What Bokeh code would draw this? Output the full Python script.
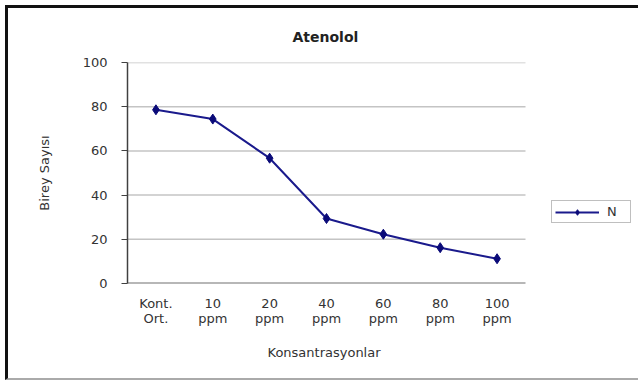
from bokeh.plotting import figure
from bokeh.layouts import column
from bokeh.models import (Range1d, Legend, LegendItem, Title,
                          FixedTicker, ColumnDataSource)
from bokeh.embed import file_html
from bokeh.resources import INLINE

categories = ["Kont.\nOrt.", "10\nppm", "20\nppm", "40\nppm", "60\nppm", "80\nppm", "100\nppm"]
values_N = [78.6, 74.4, 56.7, 29.4, 22.3, 16.2, 11.2]
y_ticks = [0, 20, 40, 60, 80, 100]
title_text = "Atenolol"
x_label = "Konsantrasyonlar"
y_label = "Birey Sayısı"
series_name = "N"

FONT = "DejaVu Sans"
TXT = "#333333"

n = len(categories)
x_pos = [i + 0.5 for i in range(n)]
# the categories fill 398 px; the frame continues to the right to hold the legend (507 px)
x_end = n * 507 / 398

p = figure(width=630, height=370, output_backend="svg", toolbar_location=None,
           x_range=Range1d(0, x_end), y_range=Range1d(0, 100),
           min_border_left=119, min_border_right=4,
           min_border_top=54, min_border_bottom=95)
p.outline_line_color = None
p.background_fill_color = "white"
p.border_fill_color = "white"

# title
p.title.text = title_text
p.title.align = "left"
p.title.offset = 165
p.title.text_font = FONT
p.title.text_font_size = "14px"
p.title.text_font_style = "bold"
p.title.text_color = "#222222"
p.title.standoff = 36

# gridlines and base line across the category area only
grid_y = [t for t in y_ticks if t > 0]
p.segment(x0=[0] * len(grid_y), y0=grid_y, x1=[n] * len(grid_y), y1=grid_y,
          line_color="#c4c4c4", line_width=1.5)
p.segment(x0=[0], y0=[0], x1=[n], y1=[0], line_color="#707070", line_width=2)

src = ColumnDataSource(dict(x=x_pos, y=values_N))
ln = p.line("x", "y", source=src, line_color="#1a1a8c", line_width=2)
mk = p.scatter("x", "y", source=src, marker="diamond", size=10,
               fill_color="#0a0a78", line_color="#0a0a78")

# y axis
p.yaxis.ticker = FixedTicker(ticks=y_ticks)
p.yaxis.axis_line_color = "#404040"
p.yaxis.axis_line_width = 1.5
p.yaxis.major_tick_line_color = "#404040"
p.yaxis.major_tick_out = 6
p.yaxis.major_tick_in = 0
p.yaxis.minor_tick_line_color = None
p.yaxis.major_label_standoff = 14
p.yaxis.major_label_text_font = FONT
p.yaxis.major_label_text_font_size = "13px"
p.yaxis.major_label_text_color = TXT
p.yaxis.axis_label = y_label
p.yaxis.axis_label_text_font = FONT
p.yaxis.axis_label_text_font_size = "13px"
p.yaxis.axis_label_text_font_style = "normal"
p.yaxis.axis_label_text_color = TXT
p.yaxis.axis_label_standoff = 28

# x axis
p.xaxis.ticker = FixedTicker(ticks=x_pos)
p.xaxis.major_label_overrides = {x: c for x, c in zip(x_pos, categories)}
p.xaxis.axis_line_color = None
p.xaxis.major_tick_line_color = None
p.xaxis.minor_tick_line_color = None
p.xaxis.major_tick_out = 0
p.xaxis.major_tick_in = 0
p.xaxis.major_label_standoff = 12
p.xaxis.major_label_text_font = FONT
p.xaxis.major_label_text_font_size = "13px"
p.xaxis.major_label_text_line_height = 1.0
p.xaxis.major_label_text_color = TXT

p.add_layout(Title(text=x_label, align="left", offset=140, standoff=28,
                   text_font=FONT, text_font_size="13px", text_font_style="normal",
                   text_color=TXT), "below")

p.xgrid.grid_line_color = None
p.ygrid.grid_line_color = None

# legend
legend = Legend(items=[LegendItem(label=series_name, renderers=[ln, mk])],
                location=(424, 60), orientation="vertical",
                border_line_color="#808080", border_line_width=1.5,
                padding=3, margin=0, glyph_width=44, glyph_height=14,
                label_height=14, label_standoff=8, spacing=0,
                label_text_font=FONT, label_text_font_size="13px",
                label_text_color=TXT, background_fill_alpha=1)
p.add_layout(legend, "center")

page = column(p, styles={"margin-left": "5px", "margin-top": "5px",
                         "border-left": "3px solid #111111",
                         "border-top": "3px solid #111111",
                         "border-bottom": "2px solid #aaaaaa"})

open("out.html", "w").write(file_html(page, INLINE))
